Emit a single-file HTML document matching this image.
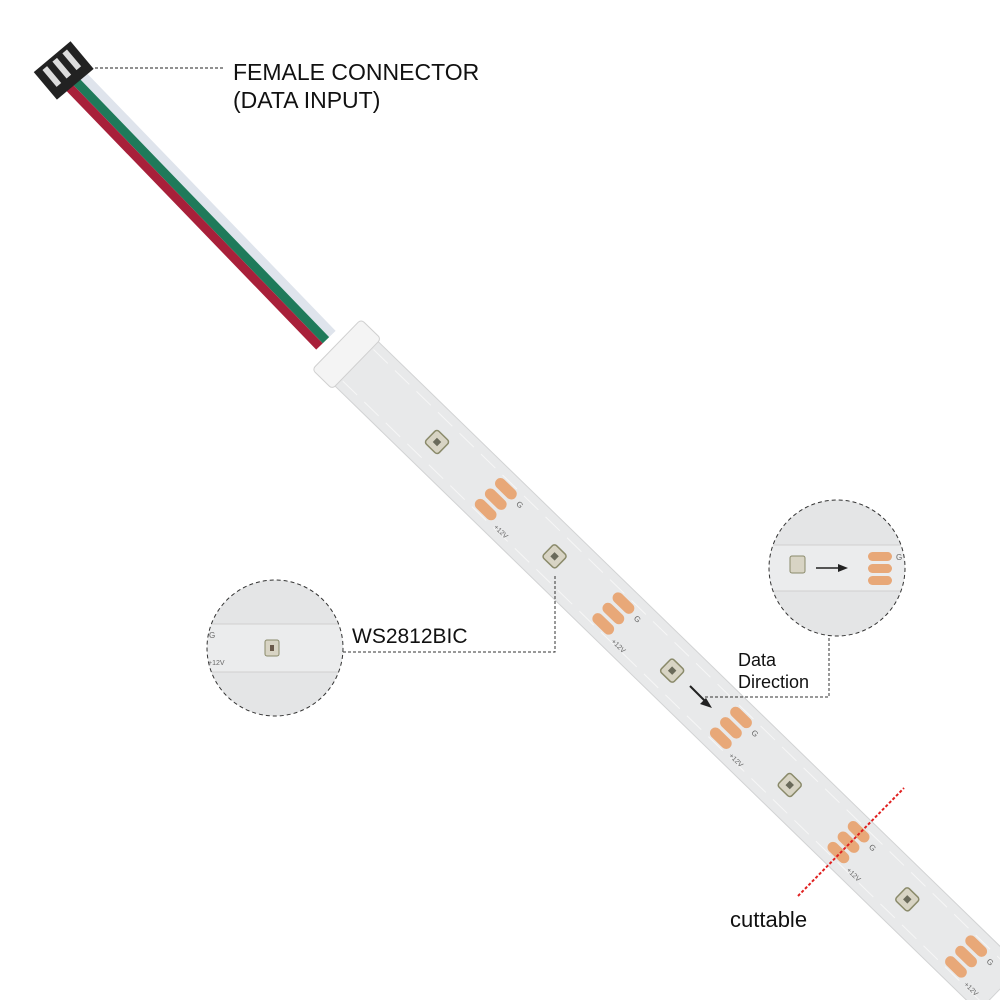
<!DOCTYPE html>
<html><head><meta charset="utf-8"><style>
html,body{margin:0;padding:0;background:#fff;}
svg{display:block;}
text{font-family:"Liberation Sans","DejaVu Sans",sans-serif;}
</style></head><body>
<svg width="1000" height="1000" viewBox="0 0 1000 1000" xmlns="http://www.w3.org/2000/svg">
<defs>
<g id="pads">
<rect x="-13" y="-20" width="26" height="11" rx="5.5" fill="#e8a878"/>
<rect x="-13" y="-5.5" width="26" height="11" rx="5.5" fill="#e8a878"/>
<rect x="-13" y="9" width="26" height="11" rx="5.5" fill="#e8a878"/>
<text x="18" y="-10" font-size="8" fill="#666">G</text>
<text x="18" y="22" font-size="7" fill="#666">+12V</text>
</g>
<g id="led">
<rect x="-9" y="-9" width="18" height="18" rx="3" fill="#d8d4c4" stroke="#8a8a6a" stroke-width="1.5"/>
<rect x="-3" y="-3" width="6" height="6" fill="#6a6a5a"/>
</g>
<clipPath id="c1"><circle cx="275" cy="648" r="68"/></clipPath>
<clipPath id="c2"><circle cx="837" cy="568" r="68"/></clipPath>
</defs>

<!-- wires -->
<g transform="translate(72,78) rotate(46)">
<rect x="0" y="-14" width="365" height="9" fill="#dfe4ec"/>
<rect x="0" y="-5" width="365" height="9" fill="#1f7a5a"/>
<rect x="0" y="4" width="365" height="9" fill="#a8203a"/>
</g>
<!-- female connector -->
<g transform="translate(65,72) rotate(-40)">
<rect x="-24" y="-20" width="48" height="36" fill="#222"/>
<rect x="-16" y="-16" width="6" height="22" fill="#ddd"/>
<rect x="-3" y="-16" width="6" height="22" fill="#ddd"/>
<rect x="10" y="-16" width="6" height="22" fill="#ddd"/>
</g>

<!-- strip -->
<g transform="translate(437,442) rotate(44.2)">
<rect x="-115" y="-31" width="900" height="62" fill="#e8e9ea" stroke="#d2d3d4"/>
<line x1="-110" y1="-22" x2="780" y2="-22" stroke="#f6f6f6" stroke-width="1" stroke-dasharray="20 10"/>
<line x1="-110" y1="22" x2="780" y2="22" stroke="#f6f6f6" stroke-width="1" stroke-dasharray="20 10"/>
<rect x="-140" y="-35" width="28" height="70" rx="4" fill="#f4f4f4" stroke="#d0d0d0"/>
<use href="#led" x="0" y="0"/>
<use href="#led" x="164" y="0"/>
<use href="#led" x="328" y="0"/>
<use href="#led" x="492" y="0"/>
<use href="#led" x="656" y="0"/>
<use href="#pads" x="82" y="0"/>
<use href="#pads" x="246" y="0"/>
<use href="#pads" x="410" y="0"/>
<use href="#pads" x="574" y="0"/>
<use href="#pads" x="738" y="0"/>
</g>
<!-- data arrow on strip -->
<line x1="690" y1="686" x2="707" y2="703" stroke="#222" stroke-width="2"/>
<polygon points="712,708 700,704 706,698" fill="#222"/>

<!-- left circle -->
<g clip-path="url(#c1)">
<rect x="200" y="575" width="150" height="150" fill="#e4e5e6"/>
<rect x="200" y="624" width="150" height="48" fill="#ebeced" stroke="#d0d0d0"/>
<text x="209" y="638" font-size="8" fill="#666">G</text>
<text x="208" y="665" font-size="7" fill="#666">+12V</text>
<rect x="265" y="640" width="14" height="16" rx="2" fill="#d8d4c4" stroke="#8a8a6a"/>
<rect x="270" y="645" width="4" height="6" fill="#6a5a4a"/>
</g>
<circle cx="275" cy="648" r="68" fill="none" stroke="#333" stroke-width="1" stroke-dasharray="4 3"/>

<!-- right circle -->
<g clip-path="url(#c2)">
<rect x="765" y="495" width="150" height="150" fill="#e4e5e6"/>
<rect x="765" y="545" width="150" height="46" fill="#ebeced" stroke="#d0d0d0"/>
<rect x="790" y="556" width="15" height="17" rx="2" fill="#d8d4c4" stroke="#8a8a6a"/>
<line x1="816" y1="568" x2="838" y2="568" stroke="#222" stroke-width="1.5"/>
<polygon points="848,568 838,564 838,572" fill="#222"/>
<rect x="868" y="552" width="24" height="9" rx="4.5" fill="#e8a878"/>
<rect x="868" y="564" width="24" height="9" rx="4.5" fill="#e8a878"/>
<rect x="868" y="576" width="24" height="9" rx="4.5" fill="#e8a878"/>
<text x="896" y="560" font-size="8" fill="#666">G</text>
</g>
<circle cx="837" cy="568" r="68" fill="none" stroke="#333" stroke-width="1" stroke-dasharray="4 3"/>

<!-- leader lines -->
<line x1="95" y1="68" x2="225" y2="68" stroke="#222" stroke-width="1" stroke-dasharray="3 2"/>
<polyline points="343,652 555,652 555,575" fill="none" stroke="#333" stroke-width="1" stroke-dasharray="3 2"/>
<polyline points="705,697 829,697 829,635" fill="none" stroke="#333" stroke-width="1" stroke-dasharray="3 2"/>
<line x1="798" y1="896" x2="904" y2="788" stroke="#e02020" stroke-width="2" stroke-dasharray="3 2"/>

<!-- labels -->
<text x="233" y="80" font-size="23" fill="#111">FEMALE CONNECTOR</text>
<text x="233" y="108" font-size="23" fill="#111">(DATA INPUT)</text>
<text x="352" y="643" font-size="21" fill="#111">WS2812BIC</text>
<text x="738" y="666" font-size="18" fill="#111">Data</text>
<text x="738" y="688" font-size="18" fill="#111">Direction</text>
<text x="730" y="927" font-size="22" fill="#111">cuttable</text>
</svg>
</body></html>
